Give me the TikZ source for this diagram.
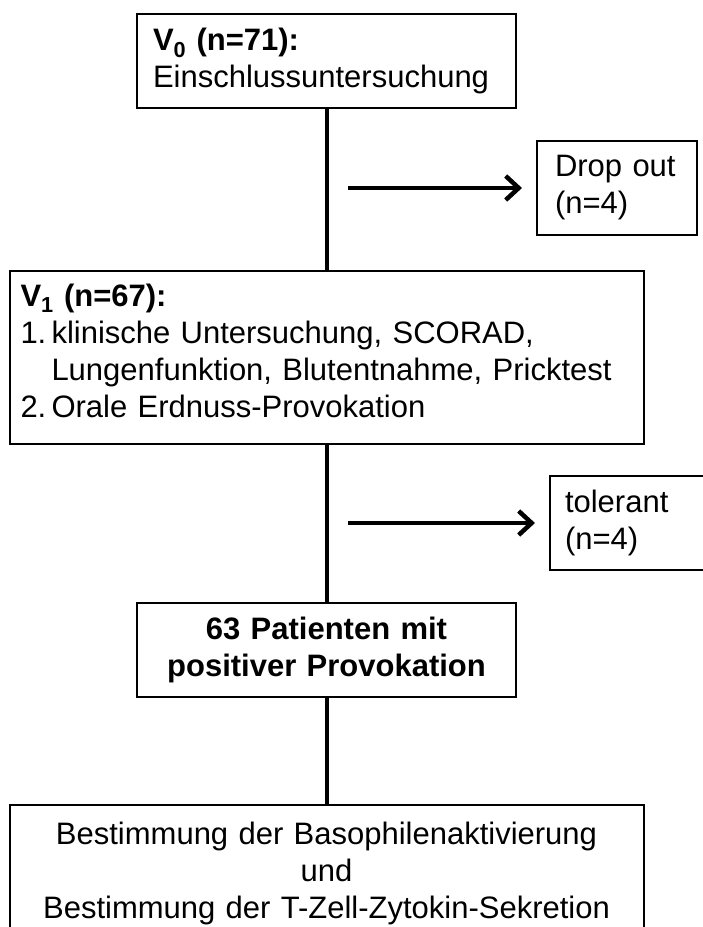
\documentclass[tikz,border=0pt]{standalone}
\usepackage{fontspec}
\setmainfont{Liberation Sans}
\usetikzlibrary{positioning,arrows.meta}

\tikzset{
  box/.style={draw, line width=2pt, inner ysep=0pt,
    font=\fontsize{31}{37}\selectfont},
  link/.style={line width=4pt},
  exit/.style={-{Straight Barb[length=13pt,width=24pt]}, line width=4.5pt,
    shorten >=14pt},
}

\begin{document}
\begin{tikzpicture}[
            x = 1pt, y = -1pt, % pixel grid, y downwards
            node distance = 157pt % gap between the boxes
        ]
  \useasboundingbox (0,0) rectangle (702,927);

  \node[box, inner xsep=16pt, text width=347pt, minimum height=94pt, align=left]
    (v0) at (326.5,61) {\textbf{V\textsubscript{0} (n=71):}\\Einschlussuntersuchung};
  \node[box, inner xsep=11pt, text width=612pt, minimum height=173pt, align=left]
    (v1) [below=161pt of v0] {\textbf{V\textsubscript{1} (n=67):}\\
      \makebox[31pt][l]{1.}klinische Untersuchung, SCORAD,\\
      \hspace*{31pt}Lungenfunktion, Blutentnahme, Pricktest\\
      \makebox[31pt][l]{2.}Orale Erdnuss-Provokation\rule[-14pt]{0pt}{14pt}};
  \node[box, inner xsep=16pt, text width=347pt, minimum height=94pt, align=center,
    font=\fontsize{31}{37}\selectfont\bfseries]
    (pos) [below=of v1] {63 Patienten mit\\positiver Provokation};
  \node[box, inner xsep=11pt, text width=612pt, minimum height=136pt, align=center]
    (lab) [below=106pt of pos] {Bestimmung der Basophilenaktivierung\\und\\
      Bestimmung der T-Zell-Zytokin-Sekretion};

  \node[box, inner xsep=18pt, text width=124pt, minimum height=94pt, align=left]
    (drop) at (617,188) {Drop out\\(n=4)};
  \node[box, inner xsep=15pt, text width=135pt, minimum height=94pt, align=left]
    (tol) at (632.5,523) {tolerant\\(n=4)};

  \draw[link] (v0) -- (v1);
  \draw[link] (v1) -- (pos);
  \draw[link] (pos) -- (lab);

  \coordinate (d0) at (348,188);
  \coordinate (t0) at (348,523);
  \draw[exit] (d0) -- (drop);
  \draw[exit] (t0) -- (tol);
\end{tikzpicture}
\end{document}
